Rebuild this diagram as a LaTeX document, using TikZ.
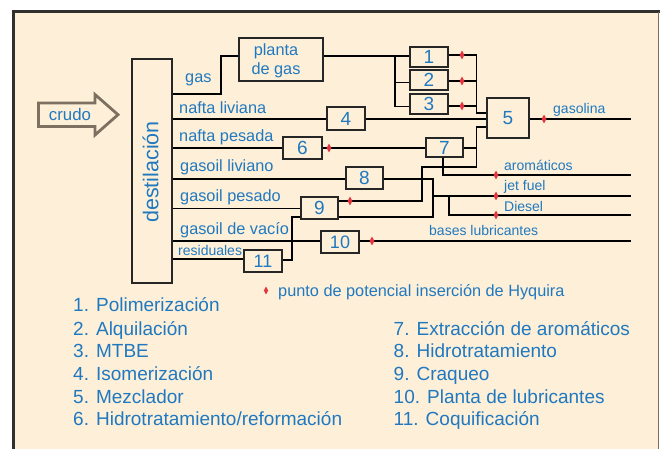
\documentclass[tikz,border=0pt]{standalone}
\usepackage{fontspec}
\setmainfont{Liberation Sans}
\usetikzlibrary{shapes.geometric}
\definecolor{bg}{RGB}{253,239,216}
\definecolor{txtblue}{RGB}{32,121,192}
\definecolor{hqred}{RGB}{229,52,62}
\definecolor{arrowc}{RGB}{125,112,96}
\definecolor{framec}{RGB}{50,48,46}
\begin{document}
\begin{tikzpicture}[x=1pt,y=-1pt,
  flow/.style={line width=1.6pt, black},
  unit/.style={draw=black!85, line width=1.8pt, fill=bg, inner sep=0pt, text=txtblue, font=\fontsize{19}{19}\selectfont},
  lbl/.style={text=txtblue, inner sep=0pt, font=\fontsize{16.3}{19}\selectfont, anchor=base west},
  slbl/.style={text=txtblue, inner sep=0pt, font=\fontsize{14}{16}\selectfont, anchor=base west},
  leg/.style={text=txtblue, inner sep=0pt, font=\fontsize{19}{22}\selectfont, anchor=base west},
  ins/.style={diamond, fill=hqred, inner sep=0pt, minimum width=5pt, minimum height=9pt},
]
\useasboundingbox (0,0) rectangle (660,449);
\fill[white] (0,0) rectangle (660,449);
\fill[bg] (13.3,11.7) rectangle (658.7,449);
\draw[framec, line width=2.6pt] (13.3,449) -- (13.3,11.7) -- (660,11.7);
\draw[arrowc, line width=1pt] (658.7,11.7) -- (658.7,449);

% crudo arrow
\draw[arrowc, line width=2.8pt, fill=bg, line join=miter] (38.5,103) -- (95,103) -- (95,94.5) -- (118,114.7) -- (95,135) -- (95,126.5) -- (38.5,126.5) -- cycle;
\node[text=txtblue, inner sep=0pt, font=\fontsize{16.8}{19}\selectfont] (crudo) at (70,114) {crudo};

% distillation
\node[unit, minimum width=40pt, minimum height=224pt] (dest) at (152,171) {};
\node[rotate=90, text=txtblue, inner sep=0pt, font=\fontsize{21.5}{22}\selectfont] (destt) at (150.5,172) {destilación};

% units
\node[unit, minimum width=84pt, minimum height=43pt] (pg) at (281,59.5) {};
\node[text=txtblue, inner sep=0pt, align=center, font=\fontsize{16.3}{18.5}\selectfont] (pgt) at (276,61) {planta\\de gas};
\node[unit, minimum width=38pt, minimum height=20pt] (b1) at (429,57) {1};
\node[unit, minimum width=38pt, minimum height=20pt] (b2) at (429,80) {2};
\node[unit, minimum width=38pt, minimum height=20pt] (b3) at (429,104) {3};
\node[unit, minimum width=38pt, minimum height=23pt] (b4) at (346,118.5) {4};
\node[unit, minimum width=42pt, minimum height=40pt] (b5) at (508,118) {5};
\node[unit, minimum width=39pt, minimum height=22pt] (b6) at (302.5,148) {6};
\node[unit, minimum width=37pt, minimum height=19pt] (b7) at (444.5,147.5) {7};
\node[unit, minimum width=37pt, minimum height=22pt] (b8) at (364.5,178) {8};
\node[unit, minimum width=37pt, minimum height=22pt] (b9) at (319.5,208) {9};
\node[unit, minimum width=38pt, minimum height=22pt, font=\fontsize{18}{18}\selectfont] (b10) at (340,242) {10};
\node[unit, minimum width=38pt, minimum height=22pt, font=\fontsize{18}{18}\selectfont] (b11) at (263,261) {11};

% gas
\draw[flow] (dest.east |- 0,94) -- (221,94) -- (221,56) -- (pg.west |- 0,56);
\draw[flow] (pg.east |- 0,56) -- (b1.west |- 0,56);
\draw[flow] (395,56) -- (395,106.7) -- (b3.west |- 0,106.7);
\draw[flow] (395,82.7) -- (b2.west |- 0,82.7);
\draw[flow] (b1.east |- 0,55) -- (476.5,55) -- (476.5,113.3) -- (b5.west |- 0,113.3);
\draw[flow] (b2.east |- 0,81) -- (476.5,81);
\draw[flow] (b3.east |- 0,106) -- (476.5,106);

% nafta liviana
\draw[flow] (dest.east |- 0,119) -- (b4.west |- 0,119);
\draw[flow] (b4.east |- 0,119) -- (b5.west |- 0,119);
\coordinate (gasend) at (631,119);
\draw[flow] (b5.east |- 0,119) -- (gasend);

% nafta pesada
\draw[flow] (dest.east |- 0,148) -- (b6.west |- 0,148);
\draw[flow] (b6.east |- 0,148) -- (b7.west |- 0,148);
\draw[flow] (b7.east |- 0,148) -- (476.5,148);
\draw[flow] (b5.west |- 0,127) -- (476.5,127) -- (476.5,167) -- (422,167) -- (422,201) -- (b9.east |- 0,201);
\coordinate (aroend) at (631,175);
\draw[flow] (b7.south -| 442.7,0) -- (442.7,175) -- (aroend);

% gasoil liviano
\draw[flow] (dest.east |- 0,178.7) -- (b8.west |- 0,178.7);
\draw[flow] (b8.east |- 0,178.7) -- (433,178.7) -- (433,216.7) -- (b9.east |- 0,216.7);
\coordinate (jetend) at (631,196);
\coordinate (dieend) at (631,215);
\draw[flow] (433,196) -- (jetend);
\draw[flow] (449,196) -- (449,215) -- (dieend);

% gasoil pesado, vacio, residuales
\draw[flow] (dest.east |- 0,208.3) -- (b9.west |- 0,208.3);
\draw[flow] (dest.east |- 0,240.7) -- (b10.west |- 0,240.7);
\coordinate (lubend) at (631,240.7);
\draw[flow] (b10.east |- 0,240.7) -- (lubend);
\draw[flow] (dest.east |- 0,258.7) -- (b11.west |- 0,258.7);
\draw[flow] (b11.east |- 0,260) -- (292,260) -- (292,217) -- (b9.west |- 0,217);

% insertion points
\node[ins] (d1) at (462,55) {};
\node[ins] (d2) at (462,81) {};
\node[ins] (d3) at (462,106) {};
\node[ins] (d4) at (544,119) {};
\node[ins] (d5) at (329,148) {};
\node[ins] (d6) at (350,201) {};
\node[ins] (d7) at (496,175) {};
\node[ins] (d8) at (496,196) {};
\node[ins] (d9) at (496,215) {};
\node[ins] (d10) at (372,241) {};

% stream labels
\node[lbl] (lgas) at (185,83) {gas};
\node[lbl] (lnl) at (179,114) {nafta liviana};
\node[lbl] (lnp) at (179,141.7) {nafta pesada};
\node[lbl] (lgl) at (180,171.7) {gasoil liviano};
\node[lbl] (lgp) at (180,201.7) {gasoil pesado};
\node[lbl] (lgv) at (180,234) {gasoil de vacío};
\node[slbl] (lres) at (178,255.7) {residuales};
\node[slbl] (lgasol) at (553,113.3) {gasolina};
\node[slbl] (laro) at (504,170.7) {aromáticos};
\node[slbl] (ljet) at (504,190.7) {jet fuel};
\node[slbl] (ldie) at (504,211.7) {Diesel};
\node[slbl] (llub) at (429,235) {bases lubricantes};

% legend
\node[ins, minimum width=4.5pt, minimum height=8pt] (dleg) at (266,290.5) {};
\node[lbl] (lpunto) at (278,296) {punto de potencial inserción de Hyquira};
\node[leg] (g1) at (73,311.7) {1. Polimerización};
\node[leg] (g2) at (73,335) {2. Alquilación};
\node[leg] (g3) at (73,357.7) {3. MTBE};
\node[leg] (g4) at (73,380) {4. Isomerización};
\node[leg] (g5) at (73,403.3) {5. Mezclador};
\node[leg] (g6) at (73,425.7) {6. Hidrotratamiento/reformación};
\node[leg] (g7) at (393.5,335) {7. Extracción de aromáticos};
\node[leg] (g8) at (393.5,357.7) {8. Hidrotratamiento};
\node[leg] (g9) at (393.5,380) {9. Craqueo};
\node[leg] (g10) at (393.5,403.3) {10. Planta de lubricantes};
\node[leg] (g11) at (393.5,425.7) {11. Coquificación};
\end{tikzpicture}
\end{document}
